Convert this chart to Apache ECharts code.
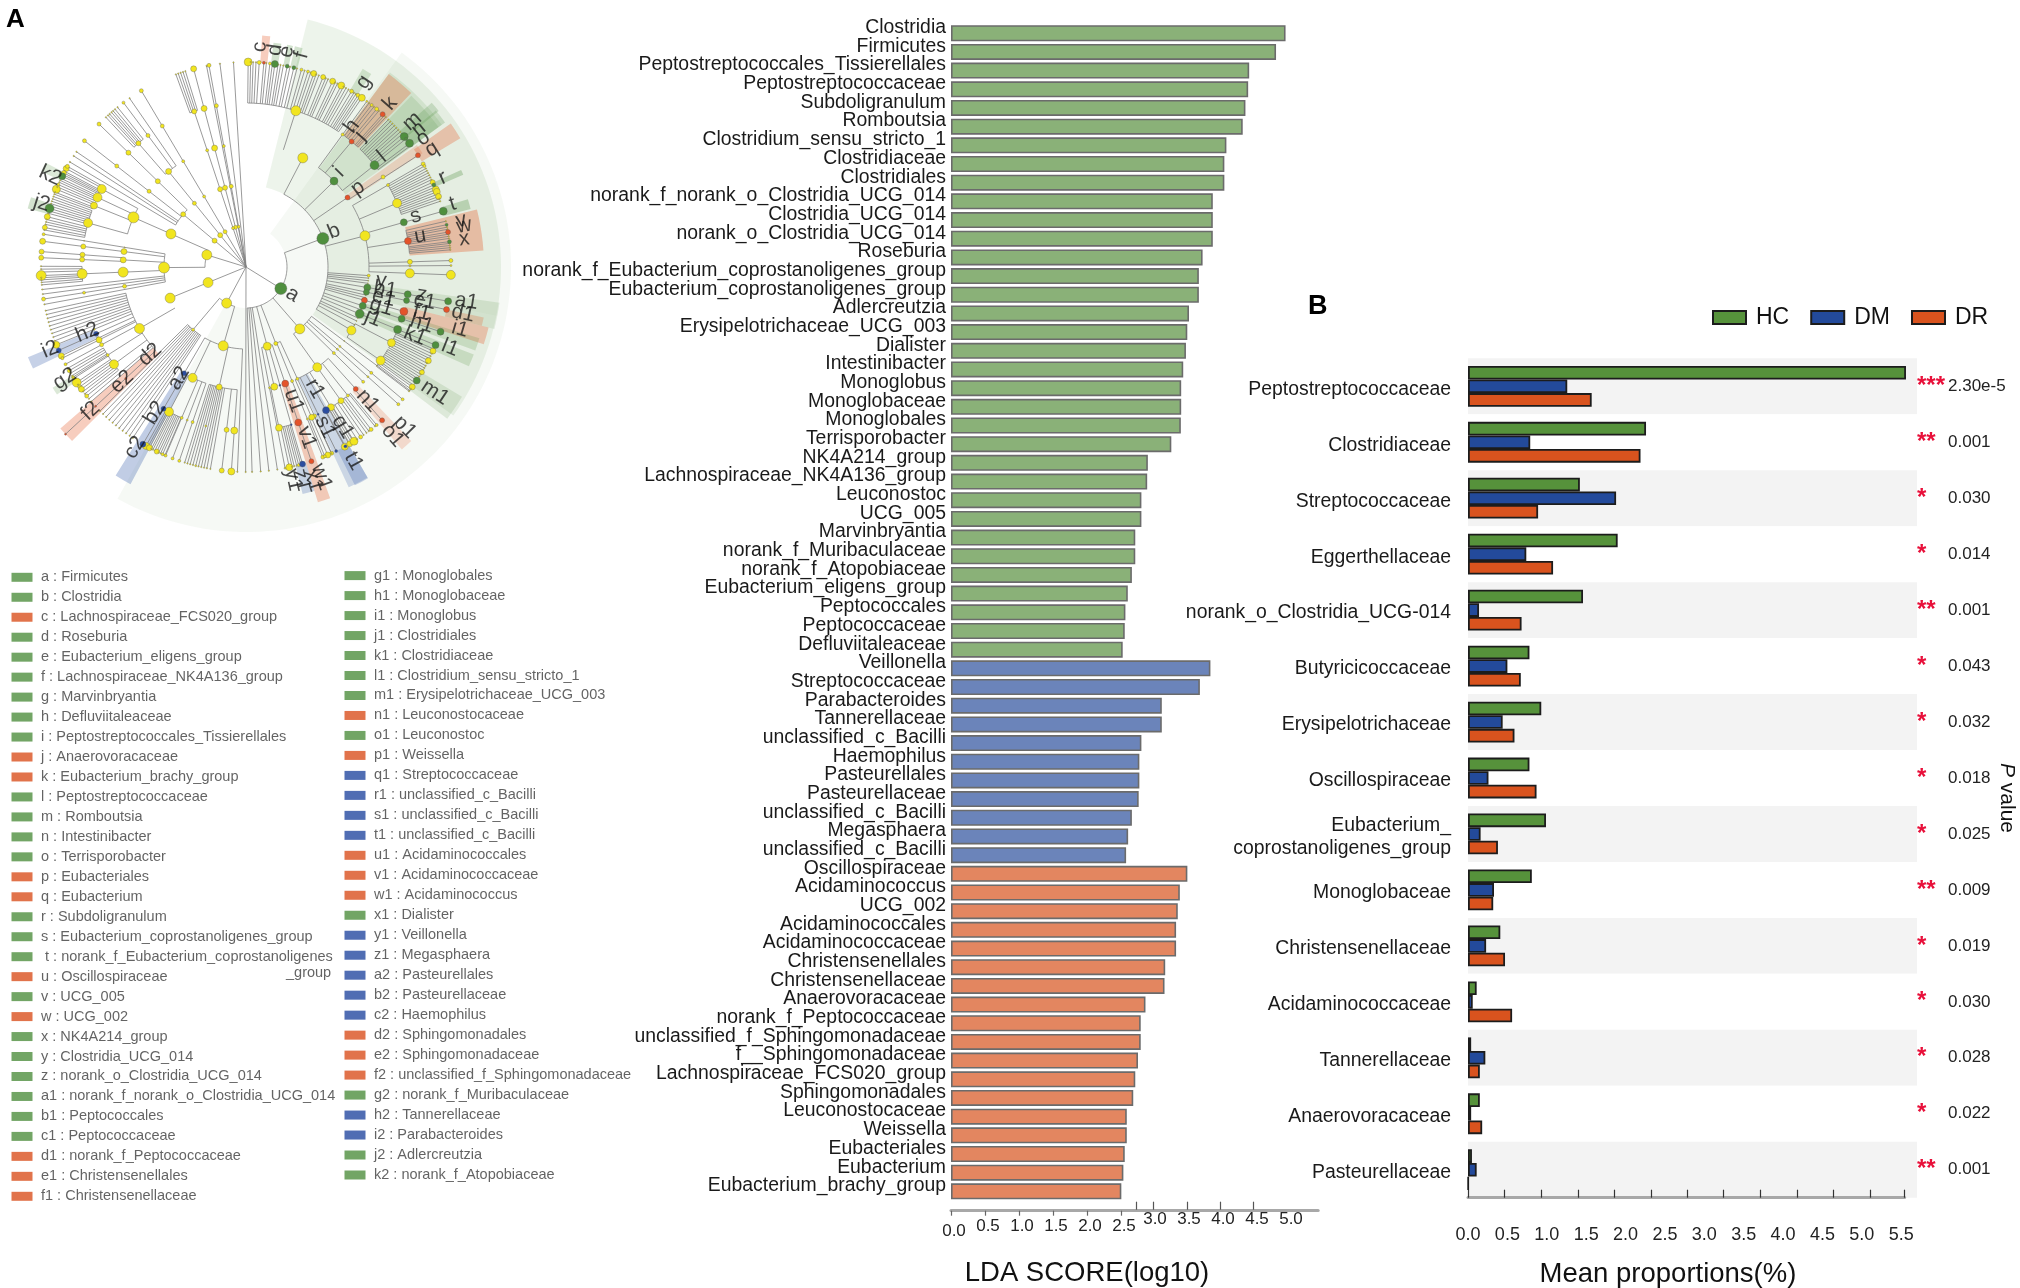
<!DOCTYPE html>
<html><head><meta charset="utf-8">
<script src="https://cdn.jsdelivr.net/npm/echarts@6/dist/echarts.min.js"></script>
<style>html,body{margin:0;padding:0;background:#fff}#c{width:2020px;height:1288px}</style>
</head><body><div id="c"></div>
<script>
// ---------- LDA panel ----------
const ldaHC = ["Clostridia","Firmicutes","Peptostreptococcales_Tissierellales","Peptostreptococcaceae","Subdoligranulum","Romboutsia","Clostridium_sensu_stricto_1","Clostridiaceae","Clostridiales","norank_f_norank_o_Clostridia_UCG_014","Clostridia_UCG_014","norank_o_Clostridia_UCG_014","Roseburia","norank_f_Eubacterium_coprostanoligenes_group","Eubacterium_coprostanoligenes_group","Adlercreutzia","Erysipelotrichaceae_UCG_003","Dialister","Intestinibacter","Monoglobus","Monoglobaceae","Monoglobales","Terrisporobacter","NK4A214_group","Lachnospiraceae_NK4A136_group","Leuconostoc","UCG_005","Marvinbryantia","norank_f_Muribaculaceae","norank_f_Atopobiaceae","Eubacterium_eligens_group","Peptococcales","Peptococcaceae","Defluviitaleaceae"];
const ldaHCValues = [4.92,4.78,4.385,4.37,4.33,4.29,4.05,4.02,4.02,3.85,3.85,3.85,3.70,3.645,3.645,3.50,3.475,3.455,3.415,3.385,3.385,3.38,3.24,2.895,2.885,2.80,2.80,2.71,2.71,2.66,2.60,2.565,2.555,2.525];
const ldaDM = ["Veillonella","Streptococcaceae","Parabacteroides","Tannerellaceae","unclassified_c_Bacilli","Haemophilus","Pasteurellales","Pasteurellaceae","unclassified_c_Bacilli","Megasphaera","unclassified_c_Bacilli"];
const ldaDMValues = [3.815,3.66,3.10,3.10,2.80,2.77,2.77,2.76,2.66,2.605,2.575];
const ldaDR = ["Oscillospiraceae","Acidaminococcus","UCG_002","Acidaminococcales","Acidaminococcaceae","Christensenellales","Christensenellaceae","Anaerovoracaceae","norank_f_Peptococcaceae","unclassified_f_Sphingomonadaceae","f__Sphingomonadaceae","Lachnospiraceae_FCS020_group","Sphingomonadales","Leuconostocaceae","Weissella","Eubacteriales","Eubacterium","Eubacterium_brachy_group"];
const ldaDRValues = [3.476,3.365,3.335,3.31,3.31,3.15,3.14,2.86,2.79,2.79,2.75,2.71,2.68,2.585,2.585,2.555,2.535,2.505];
const ldaLowTicks = [0,0.5,1,1.5,2,2.5];
const ldaHighTicks = [2.73,2.97,3.47,3.96,4.45];
const ldaHighLabels = [3,3.5,4,4.5,5];

// ---------- Mean proportions panel ----------
const propCategories = ["Peptostreptococcaceae","Clostridiaceae","Streptococcaceae","Eggerthellaceae","norank_o_Clostridia_UCG-014","Butyricicoccaceae","Erysipelotrichaceae","Oscillospiraceae","Eubacterium_\ncoprostanoligenes_group","Monoglobaceae","Christensenellaceae","Acidaminococcaceae","Tannerellaceae","Anaerovoracaceae","Pasteurellaceae"];
const propHC = [5.56,2.26,1.42,1.90,1.46,0.78,0.93,0.78,0.99,0.81,0.41,0.11,0.04,0.15,0.05];
const propDM = [1.26,0.79,1.88,0.74,0.14,0.50,0.44,0.26,0.16,0.33,0.23,0.06,0.22,0.04,0.11];
const propDR = [1.57,2.19,0.89,1.08,0.68,0.67,0.59,0.87,0.38,0.32,0.47,0.56,0.15,0.18,0.005];
const propStars = ["***","**","*","*","**","*","*","*","*","**","*","*","*","*","**"];
const propP = ["2.30e-5","0.001","0.030","0.014","0.001","0.043","0.032","0.018","0.025","0.009","0.019","0.030","0.028","0.022","0.001"];
const propLabelTicks = [0,0.5,1,1.5,2,2.5,3,3.5,4,4.5,5,5.5];
const propMarkTicks = [0,0.459,0.926,1.393,1.852,2.319,2.787,3.245,3.712,4.18,4.638,5.106,5.53];

// ---------- Cladogram key (group: 0 enriched HC, 1 DR, 2 DM) ----------
const keyLeft = ["a : Firmicutes","b : Clostridia","c : Lachnospiraceae_FCS020_group","d : Roseburia","e : Eubacterium_eligens_group","f : Lachnospiraceae_NK4A136_group","g : Marvinbryantia","h : Defluviitaleaceae","i : Peptostreptococcales_Tissierellales","j : Anaerovoracaceae","k : Eubacterium_brachy_group","l : Peptostreptococcaceae","m : Romboutsia","n : Intestinibacter","o : Terrisporobacter","p : Eubacteriales","q : Eubacterium","r : Subdoligranulum","s : Eubacterium_coprostanoligenes_group"," t : norank_f_Eubacterium_coprostanoligenes","u : Oscillospiraceae","v : UCG_005","w : UCG_002","x : NK4A214_group","y : Clostridia_UCG_014","z : norank_o_Clostridia_UCG_014","a1 : norank_f_norank_o_Clostridia_UCG_014","b1 : Peptococcales","c1 : Peptococcaceae","d1 : norank_f_Peptococcaceae","e1 : Christensenellales","f1 : Christensenellaceae"];
const keyLeftGroups = [0,0,1,0,0,0,0,0,0,1,1,0,0,0,0,1,1,0,0,0,1,0,1,0,0,0,0,0,0,1,1,1];
const keyRight = ["g1 : Monoglobales","h1 : Monoglobaceae","i1 : Monoglobus","j1 : Clostridiales","k1 : Clostridiaceae","l1 : Clostridium_sensu_stricto_1","m1 : Erysipelotrichaceae_UCG_003","n1 : Leuconostocaceae","o1 : Leuconostoc","p1 : Weissella","q1 : Streptococcaceae","r1 : unclassified_c_Bacilli","s1 : unclassified_c_Bacilli","t1 : unclassified_c_Bacilli","u1 : Acidaminococcales","v1 : Acidaminococcaceae","w1 : Acidaminococcus","x1 : Dialister","y1 : Veillonella","z1 : Megasphaera","a2 : Pasteurellales","b2 : Pasteurellaceae","c2 : Haemophilus","d2 : Sphingomonadales","e2 : Sphingomonadaceae","f2 : unclassified_f_Sphingomonadaceae","g2 : norank_f_Muribaculaceae","h2 : Tannerellaceae","i2 : Parabacteroides","j2 : Adlercreutzia","k2 : norank_f_Atopobiaceae"];
const keyRightGroups = [0,0,0,0,0,0,0,1,0,1,2,2,2,2,1,1,1,0,2,2,2,2,2,1,1,1,0,2,2,0,0];

// ---------- Cladogram tree: [angle, [node sizes at consecutive levels], class, children]
// a bare number is an unmarked tip running straight out to the last ring.
// class: 0 none, 1 HC, 2 DR, 3 DM
const topFanTips = [[89.4,[8]],88.7,88,87.2,[86.3,[4]],[85,[3],2],84.3,[83.3,[3]],82.6,[81.9,[7],1],81,80.3,79.5,[78.4,[4],1],77.6,[76.5,[4],1],75.6,[74.3,[3]],73.4,[72.4,[3]],71.6,[70.7,[6]],70,69.2,[67.9,[5]],67.1,66.4,[65,[6]],64.2,63.5,[62.3,[7]],61.6,60.8,60,[59,[4]],58.2,57.6,[56.9,[4]],56.3,[55.6,[7]]];
const peptostrepKids = [[53.9,[3],0,[[53.9,[2]]]],[49.9,[5],2,[53.1,[52.2,[3]],51.4,[50.4,[4]],49.6,[48.2,[5],2],47.6,47]],[38.4,[9],1,[46,45.2,44.4,43.6,42.8,42,41.2,40.4,[39.5,[8],1],[38.7,[3],1],[37.1,[8],1],36.4]]];
const oscilloFamilies = [[30,[3],0,[[30.2,[4]]]],[22.9,[9],0,[[29.5,[3]],28.7,28,27.3,26.6,25.9,25.2,[24.4,[5]],[23.6,[4],1],22.9,[22.2,[7]],[21.5,[7]],20.8,[20.1,[6]],19.4,18.7]],[15.8,[7,8],1],[9.1,[7],2,[12.9,[11.9,[3],1],11.2,10.6,[9.8,[5],2],9.2,8.6,8,[7.1,[4],1],6.6,6,5.4,4.8]],[1.8,[5,4]],[0.4,[2,2]],[-2.2,[9,9]]];
const clostridiaKids = [[62.5,[10],0,[[72.3,[10],0,topFanTips]]],[44.3,[8],1,peptostrepKids],[34.4,[5],2,[[33.3,[4],0,[[33,[5],2]]]]],[14.7,[10],0,oscilloFamilies],[-4,[3]],[-5.2,[1]],[-6.4,[1]],[-7.6,[1]],[-9.6,[7,7,7],1],[-11.8,[6,6],1,[[-12,[6],2]]],[-13.2,[1]],[-14.4,[1]],[-15.7,[6,8],2],[-18.4,[7,7,7],1],[-20.4,[1]],[-22.4,[9,8,7],1],[-24.5,[1]],[-26,[1]],[-28,[1]],[-31,[9],0,[[-27.5,[8],0,[-23.6,[-24.2,[6]],-25,-25.8,-26.5,[-27.2,[6]],-28,-28.8,-29.5]],[-34.8,[9],0,[-30.2,[-30.9,[5]],-31.6,-32.3,-33,[-33.6,[7],1],-34.4,-35.2,[-35.8,[6]],-36.5,-37.3]]]]];
const bacilliKids = [[-60.8,[7],3,[[-61,[3],3]]],[-58.8,[7],0,[-59.8,-59,-58.4]],[-54.6,[6],0,[[-61.2,[7]],[-59.6,[6]],[-58.2,[8]],-57.2,[-56,[4]],-55,-54,-53.2,[-52.4,[4]]]],[-51.6,[3],0,[-51,[-50.4,[3]]]],[-48,[5],2,[[-48.4,[5],2]]],[-66.4,[6],0,[[-66.5,[6]],-65.4,[-67.4,[3]]]],[-63.9,[2,3],3]];
const firmicutesKids = [-88.3,-85.9,-83.6,-81.2,[-75,[8],0,[[-79,[2,2,2]],[-76.7,[7],0,[[-78.4,[7],0,[[-77.8,[7]],-77,-76.4,-75.7,[-75.1,[3]],-74.5]]]],[-74,[2,2,6],3],[-71.4,[7,7,5],2]]],[-68.7,[4],0,[[-68,[3,2,4]],[-65.3,[3,4,4]]]],[-49,[10],0,[[-54.6,[9],0,bacilliKids],[-44.4,[3,3]],[-42,[2,2,3]],[-40.2,[2,3,3]],[-37,[1,1,1]]]],[20.4,[12],1,clostridiaKids]];
const lowerLeftFan = [192.3,193.4,194.5,195.6,196.7,197.8,198.9,200,201.1,[202.3,[2,7]],[204,[5,5],3],[205.7,[3,6]],[206.4,[6,3]],[208.3,[4,3]],[212.5,[3,3]],[216.4,[9],0,[209.6,[210.4,[4]],211.2,212,[212.9,[3]],[214.3,[9]],215,[215.8,[4]],[216.6,[6]],217.4,218.2,[219,[4]]]],220,221,[222.8,[2,2,2],2]];
const baseFan = [[239.8,[5,5,6],3],[244.3,[9],0,[[242,[9],0,[[240.8,[7]],241.4,[241.9,[6]],242.5,243,243.6,[244.2,[5]],244.8,245.4,[246,[3]],246.7]],[246.9,[3,3]],[249,[2,3]],[251,[3,3]]]],[257.4,[6],0,[252.6,253.4,254.2,255,[255.8,[2,2]],256.6,257.4,258.2,259,260,[263.2,[5,5]],[265.9,[7,7]]]],267.6];
const rootChildren = [93.5,97.3,[100.4,[3,4,3,4,4]],101.1,[104.8,[4,5,6,6,6]],[108.4,[3,5,3,5],0,[107.2,107.9,108.6,109.3,110]],[120.7,[4,3,3,4,4]],
 [129,[5,4,6],0,[124.6,[126.7,[4,3]],[131,[5],0,[128.8,129.7,130.4,131,131.7,132.3,133.1]]]],
 [140,[5,5],0,[[135.8,[5,5,4]],[142,[4,4,4]],145.8,147.2,149.2]],
 [162.8,[10],0,[[156.2,[10,11],0,[[151.6,[9],0,[[151.3,[6]],[150.6,[4]],152.2,[152.7,[5]],153.2]],[154.9,[9],0,[[153.7,[7],1],154.4,155,155.6,[156.3,[3]]]],[158,[7],0,[[157.7,[8]],157,158.6,159.2]],[164.4,[9],0,[159.9,160.6,161.3,162,162.7,[163.4,[9],1],164.1,164.8,[165.8,[6]],166.6,167.3,168,[168.9,[5]],169.6]]]],
   [180.4,[11],0,[[170.8,[1,1,3]],[172.8,[6,5,6]],[176.7,[6],0,[[175.7,[5,5]],[177.4,[5,5]]]],[182.4,[10,10],0,[179.8,180.6,181.4,[182.4,[10]],183,183.6,184.3,185]],186.3,187.6,[189,[4,3,4]],190.5]]]],
 [202.3,[10,10],0,[[210,[10],0,lowerLeftFan]]],
 [241.8,[10],0,[[229.8,[3],0,[224.6,225.8,227,228.2,229.4,230.6,231.8,233,234.2,235.4,236.5]],[253.9,[10],0,baseFan]]],
 269.9,[-31.8,[12],1,firmicutesKids]];

// wedge: [inner radius, outer radius, from angle, to angle, class, opacity]
const cladeWedges = [[41,265,-119,54,1,.05],[82,255,-35.6,76,1,.1],[123,242,36,53.5,1,.13],[164,240,46.5,53.5,2,.3],[164,238,36,46,1,.15],[205,248,39,41.5,1,.22],[205,246,38,39.5,1,.2],[205,246,36,38,1,.22],[123,210,32.8,35.5,2,.2],[205,250,31,35,2,.3],[205,236,23,24.3,1,.3],[205,232,14.5,17,1,.3],[164,238,4,14,2,.34],[123,256,-11,-8,1,.15],[123,256,-14,-11,1,.12],[205,243,-14,-12,2,.25],[164,250,-18,-14,2,.3],[123,244,-20,-17,1,.2],[123,244,-24,-21,1,.2],[205,252,-37,-31,1,.15],[164,240,-49.5,-46.5,2,.2],[123,243,-65,-60,3,.22],[205,244,-63.5,-60,3,.25],[123,246,-73,-70,2,.3],[205,234,-76,-73,3,.25],[205,232,84,86,2,.3],[205,226,81,83,1,.25],[205,226,78,79.5,1,.25],[205,226,75.5,77.5,1,.25],[205,230,57,59.5,1,.2],[123,246,238,242,3,.3],[123,246,221,225,2,.3],[164,236,202.5,205.5,3,.28],[205,228,212,214,1,.2],[205,226,162,165,1,.25],[205,226,152.5,155,1,.2]];

// label: [text, radius, angle]
const cladeLabels = [["a",54,-30.5],["b",95,22],["c",220.5,86.4],["d",219,82.4],["e",219,79.3],["f",219,75.3],["g",219,57.5],["h",176,53],["i",133,45.6],["j",174,49],["k",218,48.6],["l",175,39],["m",221,41.2],["n",221,38.6],["o",219,36],["p",137,35.3],["q",220,32.4],["r",216,24.4],["s",177,16.7],["t",216,16.9],["u",177,10],["v",220,12.2],["w",222,10.7],["x",220,7.3],["y",136,-5.8],["z",178,-8.9],["a1",223,-8.9],["b1",141,-9.2],["c1",182,-10.9],["d1",222,-12.1],["e1",141,-12.7],["f1",181.5,-14.6],["g1",141,-16.3],["h1",184.6,-17.9],["i1",222.8,-16.2],["j1",137,-22.1],["k1",182.5,-22.2],["l1",219.5,-21.6],["m1",227,-33.6],["n1",181,-47.7],["o1",223.6,-49],["p1",225.6,-45.2],["q1",187,-58.8],["r1",140,-60.5],["s1",178.6,-63.7],["t1",222,-61],["u1",142,-70.3],["v1",181,-70.4],["w1",223,-70.2],["x1",224,-72.5],["y1",218,-77.5],["z1",220,-75.4],["a2",130,238.9],["b2",172,238],["c2",212,238.4],["d2",130,222.4],["e2",169,222.8],["f2",212,222.8],["g2",213,211.7],["h2",171.6,202.4],["i2",212.7,202.8],["j2",214,162.7],["k2",216,155]];

// ---------- flatten the tree ----------
const RING = 41, LAST = 5;
const norm = a => ((a % 360) + 360) % 360;
const treeEdges = [], treeNodes = [];
function walk(kids, level) {
  const angs = kids.map(k => typeof k === 'number' ? k : k[0]);
  if (level > 0 && angs.length) treeEdges.push([level * RING, Math.min(...angs), level * RING, Math.max(...angs)]);
  kids.forEach(k => {
    if (typeof k === 'number') {
      treeEdges.push([level * RING, k, LAST * RING, k]);
      treeNodes.push([LAST * RING, norm(k), 1.4, 0]);
      return;
    }
    const [ang, sizes, cls, sub] = k;
    let lv = level;
    sizes.forEach(s => {
      treeEdges.push([lv * RING, ang, (lv + 1) * RING, ang]);
      lv++;
      treeNodes.push([lv * RING, norm(ang), s, cls || 0]);
    });
    if (sub) walk(sub, lv);
  });
}
walk(rootChildren, 0);
treeNodes.sort((p, q) => (p[3] > 0) - (q[3] > 0));

const CLS = ['#f1e51f', '#4f8f3e', '#e4532a', '#2b4da0'];
const CLSRGB = ['0,0,0', '79,143,62', '228,90,40', '50,90,170'];
const KEY = ['#4f8f3e', '#d9501e', '#2449a0'];
const FONT = '"Liberation Sans", Arial, sans-serif';

function polarPolyline(api, r1, a1, r2, a2, n) {
  const pts = [];
  for (let i = 0; i <= n; i++) {
    const t = i / n;
    pts.push(api.coord([r1 + (r2 - r1) * t, norm(a1 + (a2 - a1) * t)]));
  }
  return pts;
}

const allLda = ldaHC.concat(ldaDM, ldaDR);
const pad = (n, arr, m) => Array(n).fill(null).concat(arr, Array(m).fill(null));
const ldaBar = (name, data, color) => ({
  name, type: 'bar', stack: 'lda', xAxisIndex: 0, yAxisIndex: 0, data, barWidth: 16,
  itemStyle: { color, borderColor: '#6b6b6b', borderWidth: 1.6 }, silent: true
});
const propBar = (name, data, color) => ({
  name, type: 'bar', xAxisIndex: 3, yAxisIndex: 1, data, barWidth: 13.6, barGap: '0%',
  itemStyle: { color, borderColor: '#1c1c1c', borderWidth: 1.8 }, silent: true
});
const keySeries = (names, groups, x, xi, yi) => ({
  type: 'scatter', xAxisIndex: xi, yAxisIndex: yi, symbol: 'rect', symbolSize: [21, 9], silent: true,
  data: names.map((n, i) => ({ name: n, value: [x, i], itemStyle: { color: KEY[groups[i]] } })),
  label: { show: true, position: 'right', distance: 8.5, formatter: '{b}', fontFamily: FONT, fontSize: 14.5, color: '#3c3c3c' }
});

const option = {
  animation: false,
  backgroundColor: '#fff',
  textStyle: { fontFamily: FONT },
  title: [
    { text: 'A', left: 1, top: 2, textStyle: { fontFamily: FONT, fontWeight: 'bold', fontSize: 26, color: '#000' } },
    { text: 'B', left: 1303, top: 288, textStyle: { fontFamily: FONT, fontWeight: 'bold', fontSize: 27, color: '#000' } },
    { text: 'LDA SCORE(log10)', left: 1082, top: 1254, textAlign: 'center', textStyle: { fontFamily: FONT, fontWeight: 'normal', fontSize: 27.5, color: '#111' } },
    { text: 'Mean proportions(%)', left: 1663, top: 1255, textAlign: 'center', textStyle: { fontFamily: FONT, fontWeight: 'normal', fontSize: 27.5, color: '#111' } }
  ],
  graphic: [
    { type: 'text', x: 2007, y: 798, rotation: -Math.PI / 2, silent: true,
      style: { text: '{i|P} value', align: 'center', verticalAlign: 'middle', fontFamily: FONT, fontSize: 21, fill: '#111',
        rich: { i: { fontStyle: 'italic', fontFamily: FONT, fontSize: 21, fill: '#111' } } } }
  ],
  legend: {
    data: ['HC', 'DM', 'DR'], left: 1707, top: 301, icon: 'rect', itemWidth: 33, itemHeight: 13, itemGap: 21, selectedMode: false,
    textStyle: { fontFamily: FONT, fontSize: 23, color: '#111', padding: [0, 0, 0, 5] }
  },
  polar: { center: [246, 267], radius: [0, 265] },
  radiusAxis: { min: 0, max: 265, show: false },
  angleAxis: { min: 0, max: 360, startAngle: 0, clockwise: false, show: false },
  grid: [
    { left: 951, top: 23.9, width: 367.2, height: 1176.8, outerBoundsMode: 'none' },
    { left: 1468, top: 358.3, width: 449, height: 839.4, outerBoundsMode: 'none' },
    { left: 1468, top: 358.3, width: 436.6, height: 839.4, outerBoundsMode: 'none' },
    { left: 0, top: 577.3, width: 340, height: 619, outerBoundsMode: 'none' },
    { left: 0, top: 575.6, width: 700, height: 599.4, outerBoundsMode: 'none' }
  ],
  xAxis: [
    { gridIndex: 0, type: 'value', position: 'bottom', min: 0, max: 5.4, offset: 10, splitLine: { show: false },
      axisLine: { show: true, lineStyle: { color: '#a8a8a8', width: 3 } },
      axisTick: { show: true, length: 5, customValues: ldaLowTicks, lineStyle: { color: '#666', width: 1.2 } },
      axisLabel: { customValues: [0.5, 1, 1.5, 2, 2.5], margin: 7, fontSize: 17, color: '#222', padding: [0, 0, 0, 6], formatter: v => v.toFixed(1) } },
    { gridIndex: 0, type: 'value', position: 'bottom', min: 0, max: 5.4, offset: 9, splitLine: { show: false },
      axisLine: { show: false },
      axisTick: { show: true, inside: true, length: 8, customValues: ldaHighTicks, lineStyle: { color: '#555', width: 1.2 } },
      axisLabel: { customValues: ldaHighLabels, margin: 1, fontSize: 17, color: '#222', formatter: v => v.toFixed(1) } },
    { gridIndex: 0, type: 'value', position: 'bottom', min: 0, max: 5.4, offset: 10, splitLine: { show: false },
      axisLine: { show: false }, axisTick: { show: false },
      axisLabel: { customValues: [0], margin: 12, fontSize: 17, color: '#222', padding: [0, 0, 0, 6], formatter: v => v.toFixed(1) } },
    { gridIndex: 1, type: 'value', position: 'bottom', min: 0, max: 5.7, splitLine: { show: false },
      axisLine: { show: false }, axisTick: { show: false },
      axisLabel: { customValues: propLabelTicks, margin: 28, fontSize: 18, color: '#222', formatter: v => v.toFixed(1) } },
    { gridIndex: 2, type: 'value', position: 'bottom', min: 0, max: 5.54, offset: 13, splitLine: { show: false },
      axisLine: { show: true, lineStyle: { color: '#a8a8a8', width: 3 } },
      axisTick: { show: true, inside: true, length: 8, customValues: propMarkTicks, lineStyle: { color: '#333', width: 1.2 } },
      axisLabel: { show: false } },
    { gridIndex: 3, type: 'value', min: 0, max: 340, show: false },
    { gridIndex: 4, type: 'value', min: 0, max: 700, show: false }
  ],
  yAxis: [
    { gridIndex: 0, type: 'category', inverse: true, data: allLda,
      axisLine: { show: false }, axisTick: { show: false },
      axisLabel: { interval: 0, margin: 5, fontSize: 19.4, color: '#1a1a1a', verticalAlign: 'bottom', lineHeight: 11 } },
    { gridIndex: 1, type: 'category', inverse: true, data: propCategories,
      axisLine: { show: false }, axisTick: { show: false },
      splitArea: { show: true, areaStyle: { color: ['#f3f3f3', '#ffffff'] } },
      axisLabel: { interval: 0, margin: 17,
        formatter: v => v.split('\n').map(l => '{t|' + l + '}').join('\n'),
        rich: { t: { fontSize: 19.4, color: '#1a1a1a', lineHeight: 23, padding: [6, 0, 0, 0] } } } },
    { gridIndex: 1, type: 'category', inverse: true, position: 'right', data: propP,
      axisLine: { show: false }, axisTick: { show: false },
      axisLabel: { interval: 0, margin: 0,
        formatter: (v, i) => '{s|' + propStars[i] + '}{p|' + v + '}',
        rich: { s: { width: 31, fontSize: 24, fontWeight: 'bold', color: '#e8103a', align: 'left' }, p: { fontSize: 17, color: '#222' } } } },
    { gridIndex: 2, type: 'value', show: false, min: 0, max: 1 },
    { gridIndex: 3, type: 'value', inverse: true, min: 0, max: 31, show: false },
    { gridIndex: 4, type: 'value', inverse: true, min: 0, max: 30, show: false }
  ],
  series: [
    { type: 'custom', coordinateSystem: 'polar', silent: true, z: 1, data: cladeWedges,
      encode: { radius: 0, angle: 2 },
      renderItem: (p, api) => {
        const r1 = api.value(0), r2 = api.value(1), a1 = api.value(2), a2 = api.value(3);
        const n = Math.max(2, Math.ceil(Math.abs(a2 - a1) / 2));
        const pts = polarPolyline(api, r2, a1, r2, a2, n).concat(polarPolyline(api, r1, a2, r1, a1, n));
        return { type: 'polygon', shape: { points: pts },
          style: { fill: 'rgba(' + CLSRGB[api.value(4)] + ',' + api.value(5) + ')' } };
      } },
    { type: 'custom', coordinateSystem: 'polar', silent: true, z: 2, data: treeEdges,
      encode: { radius: 0, angle: 1 },
      renderItem: (p, api) => {
        const r1 = api.value(0), a1 = api.value(1), r2 = api.value(2), a2 = api.value(3);
        const n = r1 === r2 ? Math.max(1, Math.ceil(Math.abs(a2 - a1) / 2)) : 1;
        return { type: 'polyline', shape: { points: polarPolyline(api, r1, a1, r2, a2, n) },
          style: { fill: null, stroke: '#808080', lineWidth: 0.8 } };
      } },
    { type: 'scatter', coordinateSystem: 'polar', silent: true, z: 3, data: treeNodes,
      symbolSize: v => v[2],
      itemStyle: { color: p => CLS[p.value[3]], borderColor: 'rgba(90,90,90,.7)', borderWidth: 0.5, opacity: 1 } },
    { type: 'scatter', coordinateSystem: 'polar', silent: true, z: 4, symbolSize: 0,
      data: cladeLabels.map(l => ({ name: l[0], value: [l[1], norm(l[2])],
        label: { rotate: (norm(l[2]) > 90 && norm(l[2]) < 270) ? norm(l[2]) - 180 : l[2] } })),
      label: { show: true, position: 'inside', formatter: '{b}', fontFamily: FONT, fontSize: 21, color: '#1a1a1a' } },
    ldaBar('LDA HC', pad(0, ldaHCValues, ldaDM.length + ldaDR.length), '#8ab178'),
    ldaBar('LDA DM', pad(ldaHC.length, ldaDMValues, ldaDR.length), '#6b84ba'),
    ldaBar('LDA DR', pad(ldaHC.length + ldaDM.length, ldaDRValues, 0), '#e38660'),
    propBar('HC', propHC, '#56923b'),
    propBar('DM', propDM, '#234a9b'),
    propBar('DR', propDR, '#d9531e'),
    keySeries(keyLeft, keyLeftGroups, 22, 5, 4),
    keySeries(keyRight, keyRightGroups, 355, 6, 5),
    { type: 'scatter', xAxisIndex: 5, yAxisIndex: 4, symbolSize: 0, silent: true,
      data: [{ name: '_group', value: [286, 19.83] }],
      label: { show: true, position: 'right', distance: 0, formatter: '{b}', fontFamily: FONT, fontSize: 14.5, color: '#3c3c3c' } }
  ]
};
const chart = echarts.init(document.getElementById('c'), null, { renderer: 'canvas' });
chart.setOption(option);
</script></body></html>
